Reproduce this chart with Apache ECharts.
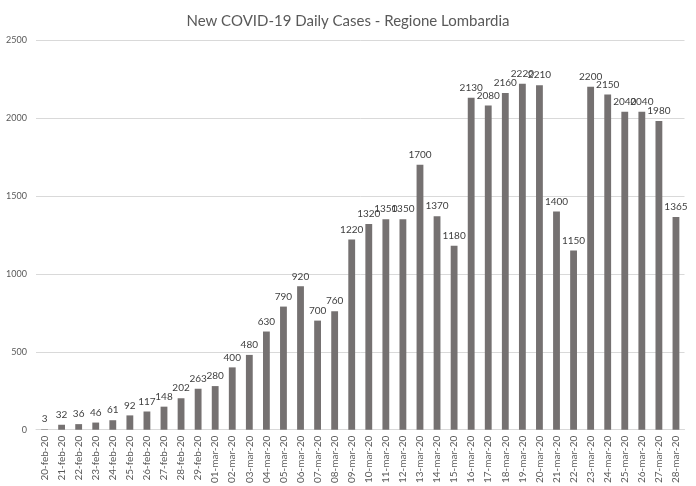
<!DOCTYPE html>
<html><head><meta charset="utf-8">
<script src="https://cdn.jsdelivr.net/npm/echarts@6/dist/echarts.min.js"></script>
<style>html,body{margin:0;padding:0;background:#fff}#c{width:696px;height:486px}</style>
</head><body><div id="c"></div>
<script>
const categories = ["20-feb-20","21-feb-20","22-feb-20","23-feb-20","24-feb-20","25-feb-20","26-feb-20","27-feb-20","28-feb-20","29-feb-20",
"01-mar-20","02-mar-20","03-mar-20","04-mar-20","05-mar-20","06-mar-20","07-mar-20","08-mar-20","09-mar-20","10-mar-20",
"11-mar-20","12-mar-20","13-mar-20","14-mar-20","15-mar-20","16-mar-20","17-mar-20","18-mar-20","19-mar-20","20-mar-20",
"21-mar-20","22-mar-20","23-mar-20","24-mar-20","25-mar-20","26-mar-20","27-mar-20","28-mar-20"];
const dailyCases = [3,32,36,46,61,92,117,148,202,263,280,400,480,630,790,920,700,760,1220,1320,1350,1350,1700,1370,1180,2130,2080,2160,2220,2210,1400,1150,2200,2150,2040,2040,1980,1365];
const yTicks = [0,500,1000,1500,2000,2500];
const title = "New COVID-19 Daily Cases - Regione Lombardia";

const chart = echarts.init(document.getElementById('c'), null, {renderer:'canvas'});
const font = 'Lato, "Open Sans", sans-serif';
chart.setOption({
  animation:false,
  title:{text:title,left:'center',top:9,textStyle:{fontFamily:font,fontSize:15,fontWeight:'normal',color:'#595959'}},
  grid:{left:36,right:11.5,top:40,bottom:55},
  xAxis:{type:'category',data:categories,
    axisLine:{lineStyle:{color:'#d9d9d9'}},axisTick:{show:false},
    axisLabel:{rotate:90,interval:0,fontFamily:font,fontSize:10,color:'#595959',margin:6}},
  yAxis:{type:'value',min:yTicks[0],max:yTicks[yTicks.length-1],interval:500,
    axisLine:{show:false},axisTick:{show:false},
    splitLine:{lineStyle:{color:'#d9d9d9'}},
    axisLabel:{fontFamily:font,fontSize:9,color:'#595959',margin:9,formatter:v=>String(v)}},
  series:[{type:'bar',data:dailyCases,barWidth:'40%',itemStyle:{color:'#757171'},
    label:{show:true,position:'top',distance:5,fontFamily:font,fontSize:10,color:'#404040'}}]
});
</script></body></html>
